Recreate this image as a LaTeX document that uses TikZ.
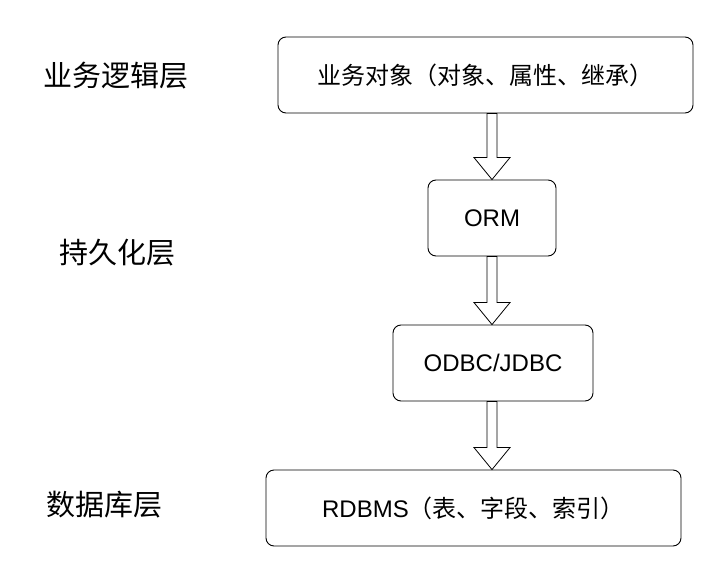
\documentclass[tikz,border=0pt]{standalone}
\usepackage{fontspec}
\setmainfont{Liberation Sans}
\newfontfamily\cjk{Noto Sans CJK SC}
\usetikzlibrary{calc}

\tikzset{
  layer/.style    = {font = \cjk\fontsize{29}{34}\selectfont},
  box/.style      = {shape = rectangle, draw = black, line width = 0.9pt,
                     rounded corners = 8pt, inner sep = 0pt,
                     minimum height = 76pt,
                     font = \fontsize{24}{28}\selectfont},
  flow/.style     = {draw = black, line width = 0.8pt, fill = white},
}

% hollow block arrow from #1 down to #2
\newcommand{\blockarrow}[2]{%
  \draw[flow]
    ($(#1) + (-5, 0)$) -- ($(#2) + (-5, -22)$) -- ($(#2) + (-18, -22)$)
    -- (#2)
    -- ($(#2) + (18, -22)$) -- ($(#2) + (5, -22)$) -- ($(#1) + (5, 0)$)
    -- cycle;%
}

\begin{document}
\begin{tikzpicture}[x = 1pt, y = -1pt]
        \useasboundingbox (0, 0) rectangle (707, 570);

        % ------------------------------------------------------------------------
        % Layers
        \node[layer] at (116, 76)  (business) {业务逻辑层};
        \node[layer] at (117, 253) (persist)  {持久化层};
        \node[layer] at (104, 505) (database) {数据库层};

        % ------------------------------------------------------------------------
        % Boxes
        \node[box, minimum width = 415pt] at (485.5, 75) (obj)
          {{\cjk 业务对象（对象、属性、继承）}};
        \node[box, minimum width = 128pt] at (492, 218) (orm) {ORM};
        \node[box, minimum width = 200pt] at (493, 363) (odbc) {ODBC/JDBC};
        \node[box, minimum width = 415pt] at (473.5, 508) (rdbms)
          {RDBMS{\cjk（表、字段、索引）}};

        % ------------------------------------------------------------------------
        % Arrows
        \coordinate (a1) at (orm |- obj.south);
        \coordinate (b1) at (orm.north);
        \coordinate (a2) at (orm.south);
        \coordinate (b2) at (orm |- odbc.north);
        \coordinate (a3) at (orm |- odbc.south);
        \coordinate (b3) at (orm |- rdbms.north);

        \blockarrow{a1}{b1}
        \blockarrow{a2}{b2}
        \blockarrow{a3}{b3}
      \end{tikzpicture}
\end{document}
